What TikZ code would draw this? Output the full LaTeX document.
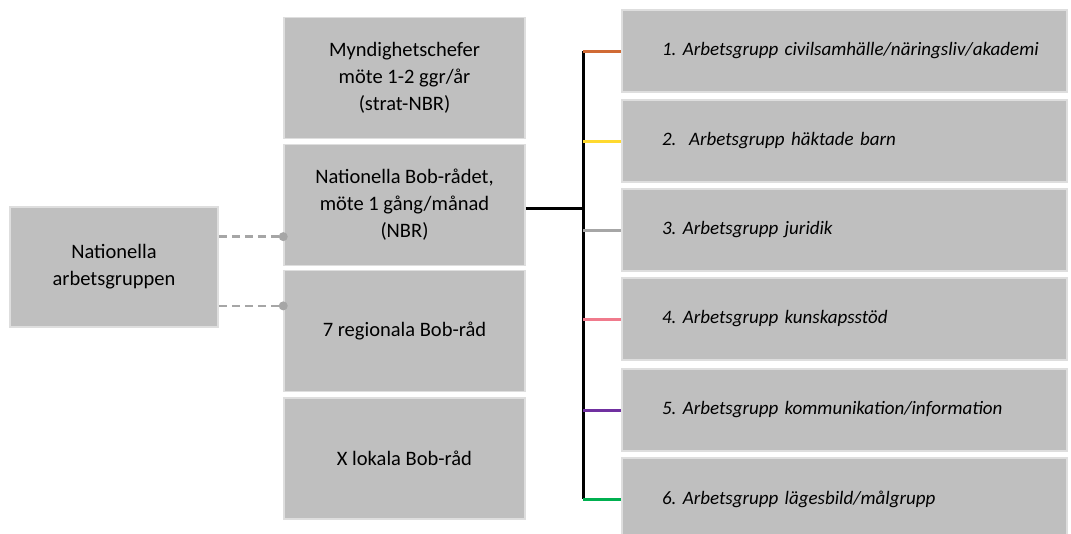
\documentclass[tikz,border=0pt]{standalone}
\usepackage{fontspec}
\setmainfont{Carlito}
\usepackage{tikz}
\usetikzlibrary{positioning,calc}
\frenchspacing
\definecolor{boxgray}{RGB}{191,191,191}
\definecolor{edgegray}{RGB}{222,222,222}
\definecolor{dashgray}{RGB}{166,166,166}
\definecolor{lineorange}{RGB}{208,106,52}
\definecolor{lineyellow}{RGB}{255,217,47}
\definecolor{linepink}{RGB}{240,122,140}
\definecolor{linepurple}{RGB}{112,48,160}
\definecolor{linegreen}{RGB}{0,176,80}
\tikzset{
    x=1pt,
    y=-1pt,
    block/.style = {
        draw=edgegray,
        fill=boxgray,
        shape=rectangle,
        line width=1.5pt,
        align=center,
        font=\fontsize{20.5}{27}\selectfont
    },
    midblock/.style = {
        block,
        minimum width=241,
        minimum height=121
    },
    group/.style = {
        block,
        minimum height=82,
        text width=405,
        inner xsep=20,
        align=left,
        font=\fontsize{19}{22}\selectfont\itshape,
        execute at begin node=\hspace*{20pt}
    },
    dashlink/.style = {
        draw=dashgray,
        line width=2.5pt,
        dash pattern=on 8pt off 5pt
    },
    dot/.style = {
        shape=circle,
        fill=dashgray,
        inner sep=0pt,
        minimum size=9pt
    },
    bus/.style = {
        draw=black,
        line width=3pt
    },
    branch/.style = {
        line width=3pt
    },
}
\begin{document}
\begin{tikzpicture}
            \useasboundingbox (0,0) rectangle (1071,533);
            \node[block, minimum width=208, minimum height=120] (nag) at (114,267) {Nationella\\arbetsgruppen};

            \node[midblock] (chef) at (404.5,78) {Myndighetschefer\\möte 1-2 ggr/år\\(strat-NBR)};
            \node[midblock] (nbr) at (404.5,205) {Nationella Bob-rådet,\\möte 1 gång/månad\\(NBR)};
            \node[midblock] (reg) at (404.5,331) {7 regionala Bob-råd};
            \node[midblock] (lok) at (404.5,458.5) {X lokala Bob-råd};

            \node[group] (g1) at (844.5,51) {1. Arbetsgrupp civilsamhälle/näringsliv/akademi};
            \node[group] (g2) at (844.5,141) {2.\ \ Arbetsgrupp häktade barn};
            \node[group] (g3) at (844.5,230) {3. Arbetsgrupp juridik};
            \node[group] (g4) at (844.5,319) {4. Arbetsgrupp kunskapsstöd};
            \node[group] (g5) at (844.5,410) {5. Arbetsgrupp kommunikation/information};
            \node[group] (g6) at (844.5,499) {6. Arbetsgrupp lägesbild/målgrupp};

            \coordinate (bus) at (583,0);

            % dashed links from the working group
            \path[dashlink] ($(nag.north east)!0.25!(nag.south east)$) coordinate (d1) -- (nbr.west |- d1) node[dot] {};
            \path[dashlink] ($(nag.north east)!0.82!(nag.south east)$) coordinate (d2) -- (reg.west |- d2) node[dot] {};

            % bus to the working groups
            \path[bus] ($(nbr.east)+(0,3)$) coordinate (n1) -- (bus |- n1);
            \path[bus] (bus |- g1.west) -- (bus |- g6.west);
            \path[draw=lineorange, branch] (bus |- g1.west) -- (g1.west);
            \path[draw=lineyellow, branch] (bus |- g2.west) -- (g2.west);
            \path[draw=dashgray, branch] (bus |- g3.west) -- (g3.west);
            \path[draw=linepink, branch] (bus |- g4.west) -- (g4.west);
            \path[draw=linepurple, branch] (bus |- g5.west) -- (g5.west);
            \path[draw=linegreen, branch] (bus |- g6.west) -- (g6.west);
        \end{tikzpicture}
\end{document}
